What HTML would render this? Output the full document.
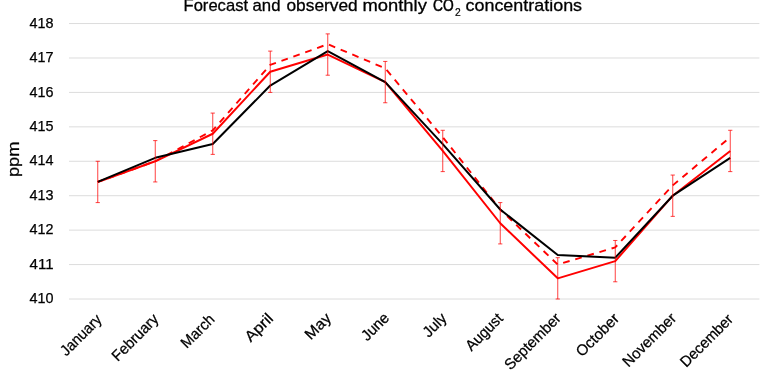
<!DOCTYPE html>
<html><head><meta charset="utf-8"><style>
html,body{margin:0;padding:0;background:#fff;}
svg{display:block;will-change:transform;}
text{font-family:"Liberation Sans",sans-serif;fill:#000;stroke:#000;stroke-width:0.25px;}
</style></head><body>
<svg width="768" height="384" viewBox="0 0 768 384">
<rect width="768" height="384" fill="#fff"/>
<line x1="69.0" y1="299.00" x2="759.4" y2="299.00" stroke="#DCDCDC" stroke-width="1"/>
<line x1="69.0" y1="264.57" x2="759.4" y2="264.57" stroke="#DCDCDC" stroke-width="1"/>
<line x1="69.0" y1="230.14" x2="759.4" y2="230.14" stroke="#DCDCDC" stroke-width="1"/>
<line x1="69.0" y1="195.71" x2="759.4" y2="195.71" stroke="#DCDCDC" stroke-width="1"/>
<line x1="69.0" y1="161.28" x2="759.4" y2="161.28" stroke="#DCDCDC" stroke-width="1"/>
<line x1="69.0" y1="126.85" x2="759.4" y2="126.85" stroke="#DCDCDC" stroke-width="1"/>
<line x1="69.0" y1="92.42" x2="759.4" y2="92.42" stroke="#DCDCDC" stroke-width="1"/>
<line x1="69.0" y1="57.99" x2="759.4" y2="57.99" stroke="#DCDCDC" stroke-width="1"/>
<line x1="69.0" y1="23.56" x2="759.4" y2="23.56" stroke="#DCDCDC" stroke-width="1"/>
<text x="29.60" y="303.10" font-size="14.8" textLength="24.0" lengthAdjust="spacingAndGlyphs">410</text>
<text x="29.60" y="268.67" font-size="14.8" textLength="24.0" lengthAdjust="spacingAndGlyphs">411</text>
<text x="29.60" y="234.24" font-size="14.8" textLength="24.0" lengthAdjust="spacingAndGlyphs">412</text>
<text x="29.60" y="199.81" font-size="14.8" textLength="24.0" lengthAdjust="spacingAndGlyphs">413</text>
<text x="29.60" y="165.38" font-size="14.8" textLength="24.0" lengthAdjust="spacingAndGlyphs">414</text>
<text x="29.60" y="130.95" font-size="14.8" textLength="24.0" lengthAdjust="spacingAndGlyphs">415</text>
<text x="29.60" y="96.52" font-size="14.8" textLength="24.0" lengthAdjust="spacingAndGlyphs">416</text>
<text x="29.60" y="62.09" font-size="14.8" textLength="24.0" lengthAdjust="spacingAndGlyphs">417</text>
<text x="29.60" y="27.66" font-size="14.8" textLength="24.0" lengthAdjust="spacingAndGlyphs">418</text>
<polyline points="97.75,181.94 155.25,161.28 212.75,130.29 270.25,64.88 327.75,44.22 385.25,68.32 442.75,137.18 500.25,209.48 557.75,264.57 615.25,247.36 672.75,185.38 730.25,137.18" fill="none" stroke="#FF0000" stroke-width="1.9" stroke-dasharray="6.75,5.88" stroke-dashoffset="1.93" stroke-linejoin="round"/>
<polyline points="97.75,181.94 155.25,161.28 212.75,133.74 270.25,71.76 327.75,54.55 385.25,82.09 442.75,150.95 500.25,223.25 557.75,278.34 615.25,261.13 672.75,195.71 730.25,150.95" fill="none" stroke="#FF0000" stroke-width="2.0" stroke-linejoin="round"/>
<polyline points="97.75,181.94 155.25,157.84 212.75,144.06 270.25,85.53 327.75,51.10 385.25,82.09 442.75,144.06 500.25,209.48 557.75,254.93 615.25,257.68 672.75,195.71 730.25,157.84" fill="none" stroke="#000000" stroke-width="2.0" stroke-linejoin="round"/>
<path d="M97.75,161.28V202.60M95.65,161.28H99.85M95.65,202.60H99.85M155.25,140.62V181.94M153.15,140.62H157.35M153.15,181.94H157.35M212.75,113.08V154.39M210.65,113.08H214.85M210.65,154.39H214.85M270.25,51.10V92.42M268.15,51.10H272.35M268.15,92.42H272.35M327.75,33.89V75.21M325.65,33.89H329.85M325.65,75.21H329.85M385.25,61.43V102.75M383.15,61.43H387.35M383.15,102.75H387.35M442.75,130.29V171.61M440.65,130.29H444.85M440.65,171.61H444.85M500.25,202.60V243.91M498.15,202.60H502.35M498.15,243.91H502.35M557.75,257.68V299.00M555.65,257.68H559.85M555.65,299.00H559.85M615.25,240.47V281.79M613.15,240.47H617.35M613.15,281.79H617.35M672.75,175.05V216.37M670.65,175.05H674.85M670.65,216.37H674.85M730.25,130.29V171.61M728.15,130.29H732.35M728.15,171.61H732.35" fill="none" stroke="#FF0000" stroke-width="0.75"/>
<text x="102.65" y="320.50" text-anchor="end" font-size="15.25" textLength="51.39" lengthAdjust="spacingAndGlyphs" transform="rotate(-45 102.65 320.50)">January</text>
<text x="159.55" y="320.10" text-anchor="end" font-size="15.25" textLength="59.11" lengthAdjust="spacingAndGlyphs" transform="rotate(-45 159.55 320.10)">February</text>
<text x="215.60" y="320.30" text-anchor="end" font-size="15.25" textLength="40.70" lengthAdjust="spacingAndGlyphs" transform="rotate(-45 215.60 320.30)">March</text>
<text x="274.20" y="319.30" text-anchor="end" font-size="15.25" textLength="33.16" lengthAdjust="spacingAndGlyphs" transform="rotate(-45 274.20 319.30)">April</text>
<text x="332.15" y="319.10" text-anchor="end" font-size="15.25" textLength="30.25" lengthAdjust="spacingAndGlyphs" transform="rotate(-45 332.15 319.10)">May</text>
<text x="390.10" y="318.75" text-anchor="end" font-size="15.25" textLength="32.36" lengthAdjust="spacingAndGlyphs" transform="rotate(-45 390.10 318.75)">June</text>
<text x="447.70" y="319.20" text-anchor="end" font-size="15.25" textLength="26.89" lengthAdjust="spacingAndGlyphs" transform="rotate(-45 447.70 319.20)">July</text>
<text x="503.90" y="319.40" text-anchor="end" font-size="15.25" textLength="45.80" lengthAdjust="spacingAndGlyphs" transform="rotate(-45 503.90 319.40)">August</text>
<text x="561.85" y="319.25" text-anchor="end" font-size="15.25" textLength="72.69" lengthAdjust="spacingAndGlyphs" transform="rotate(-45 561.85 319.25)">September</text>
<text x="620.05" y="319.55" text-anchor="end" font-size="15.25" textLength="53.77" lengthAdjust="spacingAndGlyphs" transform="rotate(-45 620.05 319.55)">October</text>
<text x="677.20" y="319.20" text-anchor="end" font-size="15.25" textLength="68.68" lengthAdjust="spacingAndGlyphs" transform="rotate(-45 677.20 319.20)">November</text>
<text x="734.10" y="320.20" text-anchor="end" font-size="15.25" textLength="67.72" lengthAdjust="spacingAndGlyphs" transform="rotate(-45 734.10 320.20)">December</text>
<text x="0" y="0" text-anchor="middle" font-size="16.8" textLength="35.5" lengthAdjust="spacingAndGlyphs" transform="translate(18.8,159.3) rotate(-90)">ppm</text>
<text x="183.50" y="11.35" font-size="17.0" textLength="64.54" lengthAdjust="spacingAndGlyphs" style="stroke-width:0.3px">Forecast</text>
<text x="252.50" y="11.35" font-size="17.0" textLength="27.97" lengthAdjust="spacingAndGlyphs" style="stroke-width:0.3px">and</text>
<text x="286.50" y="11.35" font-size="17.0" textLength="71.14" lengthAdjust="spacingAndGlyphs" style="stroke-width:0.3px">observed</text>
<text x="362.50" y="11.35" font-size="17.0" textLength="64.33" lengthAdjust="spacingAndGlyphs" style="stroke-width:0.3px">monthly</text>
<text x="433.00" y="11.35" font-size="17.0" textLength="20.70" lengthAdjust="spacingAndGlyphs" style="stroke-width:0.55px">CO</text>
<text x="455.00" y="15.65" font-size="11.0" textLength="5.73" lengthAdjust="spacingAndGlyphs" style="stroke-width:0.2px">2</text>
<text x="465.50" y="11.35" font-size="17.0" textLength="116.58" lengthAdjust="spacingAndGlyphs" style="stroke-width:0.3px">concentrations</text>
</svg>
</body></html>
